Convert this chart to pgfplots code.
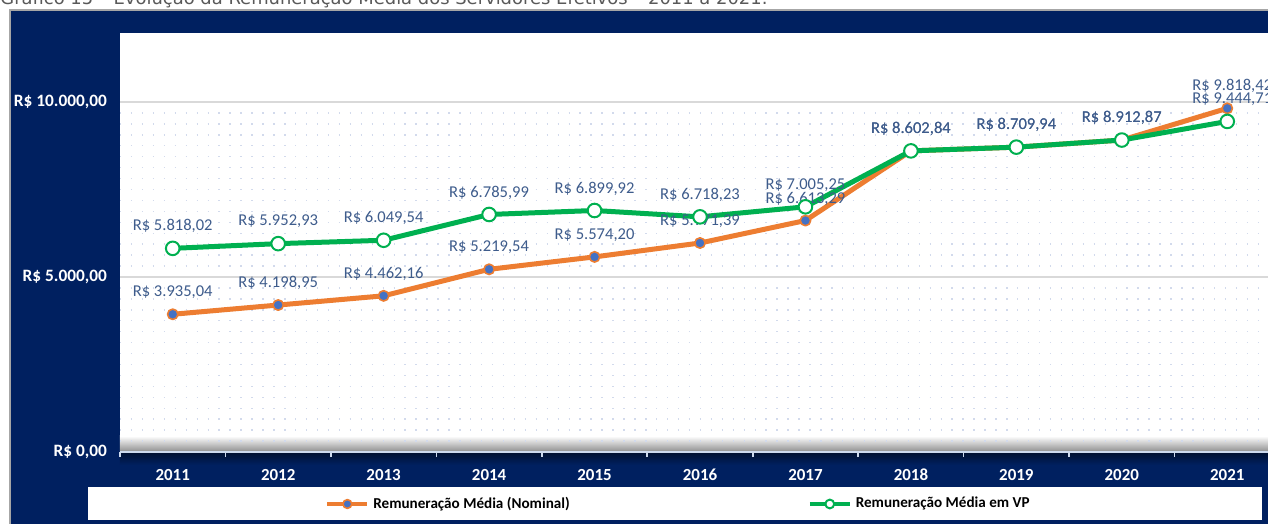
\documentclass[border=0pt]{standalone}
\usepackage{fontspec}
\setmainfont{Carlito}
\newfontfamily\titlefont{DejaVu Sans}
\usepackage{pgfplots}
\usepackage{pgfplotstable}
\pgfplotsset{compat=1.18}
\definecolor{navy}{RGB}{0,32,96}
\definecolor{orangeS}{RGB}{237,125,49}
\definecolor{blueM}{RGB}{68,114,196}
\definecolor{greenS}{RGB}{0,176,80}
\definecolor{lbl}{RGB}{62,92,140}
\definecolor{dotc}{RGB}{210,218,236}
\definecolor{gridc}{RGB}{217,217,217}
\definecolor{axisc}{RGB}{205,218,238}

\pgfplotstableread{
x year nom vp dx
0 2011 3935.04 5818.02 0
1 2012 4198.95 5952.93 0
2 2013 4462.16 6049.54 0
3 2014 5219.54 6785.99 0
4 2015 5574.20 6899.92 0
5 2016 5971.39 6718.23 0
6 2017 6613.29 7005.25 0
7 2018 8602.84 8602.84 0
8 2019 8709.94 8709.94 0
9 2020 8912.87 8912.87 0
10 2021 9818.42 9444.71 2.5
}\datatable

\begin{document}
\begin{tikzpicture}
\useasboundingbox (0,0) rectangle (634bp,-262bp);
\begin{scope}[x=0.5bp,y=-0.5bp]
\node[anchor=base west, inner sep=0, text=black!65, font=\titlefont\fontsize{9}{10}\selectfont] at (0,4) {Gráfico 15 – Evolução da Remuneração Média dos Servidores Efetivos – 2011 a 2021.};
\fill[navy] (10,10) rectangle (1290,540);
\draw[black!35, line width=1bp] (10.5,540) -- (10.5,10.5) -- (1290,10.5);
\fill[white] (120,33) rectangle (1290,452);
\shade[top color=white, bottom color=black!45] (120,436) rectangle (1290,452);
\shade[top color=black!50!navy, bottom color=navy] (120,452) rectangle (1290,465);
\fill[white] (88,487) rectangle (1262,520);
\end{scope}
\begin{axis}[
  at={(60bp,-226bp)}, anchor=south west,
  scale only axis, width=580bp, height=209.5bp,
  xmin=-0.5, xmax=10.5, ymin=0, ymax=11971,
  clip=false,
  scaled y ticks=false,
  axis lines*=left,
  y axis line style={draw=none},
  x axis line style={draw=axisc, line width=0.8bp},
  xtick={0,1,2,3,4,5,6,7,8,9,10},
  xticklabels={2011,2012,2013,2014,2015,2016,2017,2018,2019,2020,2021},
  ytick={0,5000,10000},
  yticklabels={{R\$ 0,00},{R\$ 5.000,00},{R\$ 10.000,00}},
  major tick length=0pt, minor tick length=0pt,
  extra x ticks={-0.5,0.5,1.5,2.5,3.5,4.5,5.5,6.5,7.5,8.5,9.5,10.5},
  extra x tick labels={},
  extra x tick style={major tick length=2.5bp, tick align=outside, tick style={draw=axisc, line width=0.8bp}},
  ymajorgrids, yminorgrids, minor y tick num=15,
  major grid style={draw=gridc, line width=0.6bp},
  minor grid style={draw=dotc, line width=0.7bp, dash pattern=on 0.7bp off 4.77bp},
  yticklabel style={font=\bfseries\fontsize{8.7}{10}\selectfont, text=white, xshift=-3bp},
  xticklabel style={font=\bfseries\fontsize{8.5}{10}\selectfont, text=white, yshift=-5bp},
  visualization depends on={\thisrow{dx} \as \labdx},
  nodes near coords={R\$ \pgfmathprintnumber[fixed, fixed zerofill, precision=2, use comma, 1000 sep={.}, assume math mode=true]{\pgfplotspointmeta}},
  point meta=y,
  nodes near coords style={font=\fontsize{8.3}{10}\selectfont, text=lbl, anchor=center, yshift=11bp, xshift=\labdx bp},
  legend style={at={(0.1767,-0.1241)}, anchor=west, draw=none, fill=none, inner sep=0pt,
    font=\bfseries\fontsize{7.6}{9}\selectfont, legend columns=2,
    /tikz/every even column/.append style={column sep=117bp}},
  legend image code/.code={\draw[mark repeat=2,mark phase=2,#1] plot coordinates {(0bp,0bp)(10bp,0bp)(20bp,0bp)};},
  legend image post style={line width=2bp, mark size=2.2bp},
]
\addplot[orangeS, line width=2.5bp, line join=round, mark=*, mark size=2.6bp,
  mark options={fill=blueM, draw=orangeS, line width=0.8bp}] table[x=x,y=nom]{\datatable};
\addlegendentry{Remuneração Média (Nominal)}
\addplot[greenS, line width=2.5bp, line join=round, mark=*, mark size=3.4bp,
  mark options={fill=white, draw=greenS, line width=1bp}] table[x=x,y=vp]{\datatable};
\addlegendentry{Remuneração Média em VP}
\end{axis}
\end{tikzpicture}
\end{document}
